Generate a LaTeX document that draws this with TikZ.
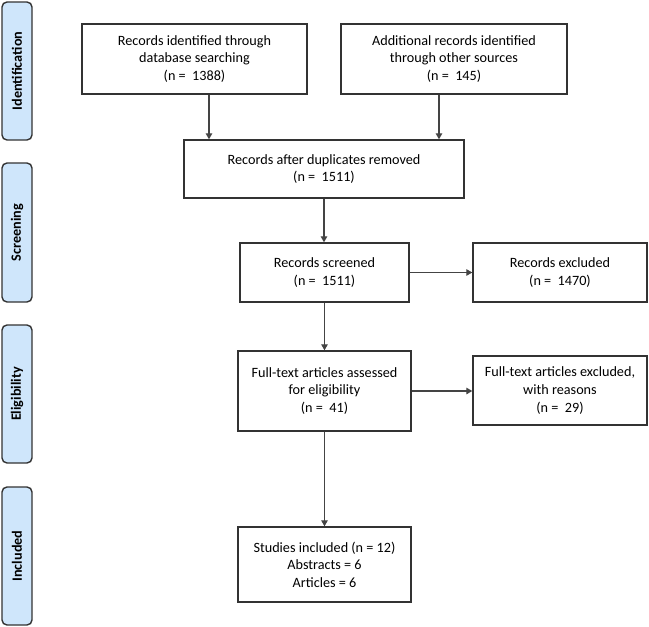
\documentclass[tikz,border=0pt]{standalone}
\usepackage{fontspec}
\setmainfont{Carlito}
\usetikzlibrary{arrows.meta}
\definecolor{boxline}{HTML}{333333}
\definecolor{arrline}{HTML}{444444}
\definecolor{phasefill}{HTML}{CFE6FB}
\begin{document}
\begin{tikzpicture}[x=1pt,y=-1pt,
  box/.style={draw=boxline,line width=1.4pt,fill=white,align=center,inner sep=2pt,
    font=\fontsize{14.2}{17.6}\selectfont},
  phase/.style={draw=boxline,line width=1.4pt,fill=phasefill,rounded corners=5pt,
    minimum width=30pt,inner sep=0pt},
  phasetext/.style={rotate=90,font=\fontsize{14.2}{17}\selectfont\bfseries},
  arr/.style={draw=arrline,line width=1.3pt,-{Triangle[length=6pt,width=6.5pt]}}]
\useasboundingbox (0,0) rectangle (649,627);
% phase labels
\node[phase,minimum height=138pt] (p1) at (17,71) {};
\node[phasetext] (t1) at (p1.center) {Identification};
\node[phase,minimum height=139pt] (p2) at (17,232.5) {};
\node[phasetext] (t2) at (p2.center) {Screening};
\node[phase,minimum height=138pt] (p3) at (17,394) {};
\node[phasetext] (t3) at (p3.center) {Eligibility};
\node[phase,minimum height=138pt] (p4) at (17,556) {};
\node[phasetext] (t4) at (p4.center) {Included};
% boxes
\node[box,minimum width=225pt,minimum height=70pt] (b1) at (194.5,59)
  {Records identified through\\database searching\\(n =\ \ 1388)};
\node[box,minimum width=226pt,minimum height=70pt] (b2) at (454,59)
  {Additional records identified\\through other sources\\(n =\ \ 145)};
\node[box,minimum width=280pt,minimum height=58pt] (b3) at (324,169)
  {Records after duplicates removed\\(n =\ \ 1511)};
\node[box,minimum width=169pt,minimum height=59pt] (b4) at (324.5,272.5)
  {Records screened\\(n =\ \ 1511)};
\node[box,minimum width=174pt,minimum height=59pt] (b5) at (560,272.5)
  {Records excluded\\(n =\ \ 1470)};
\node[box,minimum width=173pt,minimum height=80pt] (b6) at (324.5,391)
  {Full-text articles assessed\\for eligibility\\(n =\ \ 41)};
\node[box,minimum width=174pt,minimum height=69pt] (b7) at (560,390.5)
  {Full-text articles excluded,\\with reasons\\(n =\ \ 29)};
\node[box,minimum width=173pt,minimum height=75pt] (b8) at (324.5,564.5)
  {Studies included (n = 12)\\Abstracts = 6\\Articles = 6};
% connectors
\draw[arr] ([xshift=14.5pt]b1.south) -- ([xshift=14.5pt]b1.south |- b3.north);
\draw[arr] ([xshift=-15pt]b2.south) -- ([xshift=-15pt]b2.south |- b3.north);
\draw[arr] (b3.south) -- (b3.south |- b4.north);
\draw[arr] (b4.east) -- (b4.east -| b5.west);
\draw[arr] (b4.south) -- (b4.south |- b6.north);
\draw[arr] (b6.east) -- (b6.east -| b7.west);
\draw[arr] (b6.south) -- (b6.south |- b8.north);
\end{tikzpicture}
\end{document}
